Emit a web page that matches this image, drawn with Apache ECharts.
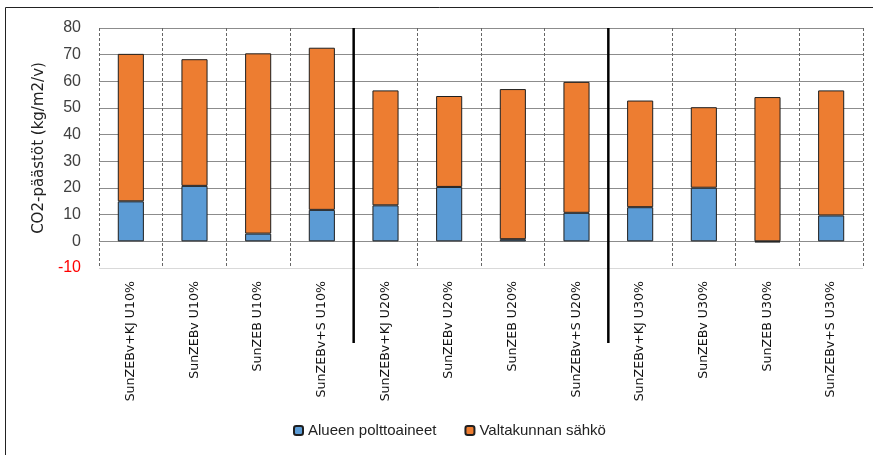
<!DOCTYPE html>
<html><head><meta charset="utf-8">
<script src="https://cdn.jsdelivr.net/npm/echarts@6/dist/echarts.min.js"></script>
<style>html,body{margin:0;padding:0;background:#fff}#c{width:873px;height:455px}</style>
</head><body><div id="c"></div>
<script>
var categories = ['SunZEBv+KJ U10%','SunZEBv U10%','SunZEB U10%','SunZEBv+S U10%','SunZEBv+KJ U20%','SunZEBv U20%','SunZEB U20%','SunZEBv+S U20%','SunZEBv+KJ U30%','SunZEBv U30%','SunZEB U30%','SunZEBv+S U30%'];
var alueenPolttoaineet = [15.0, 20.8, 2.9, 11.8, 13.5, 20.4, 0.8, 10.7, 12.8, 20.1, -0.4, 9.7];
var valtakunnanSahko = [55.3, 47.5, 67.6, 60.8, 43.1, 34.1, 56.3, 49.1, 40.0, 30.2, 54.1, 46.9];
var seriesNames = ['Alueen polttoaineet', 'Valtakunnan sähkö'];
var yTitle = 'CO2-päästöt (kg/m2/v)';
var groupBreaks = [4, 8];

var chart = echarts.init(document.getElementById('c'));
var gridColors = ['#d9d9d9','#8c8c8c','#8c8c8c','#8c8c8c','#8c8c8c','#8c8c8c','#8c8c8c','#8c8c8c','#8c8c8c','#8c8c8c'];
chart.setOption({
  animation: false,
  grid: {left: 99, right: 10, top: 28, bottom: 187},
  legend: {
    bottom: 12, left: 288, itemWidth: 9, itemHeight: 9, itemGap: 28,
    textStyle: {fontFamily: 'Liberation Sans', fontSize: 15, color: '#222'},
    data: seriesNames
  },
  xAxis: {
    type: 'category', data: categories,
    axisLine: {show: false}, axisTick: {show: false},
    splitLine: {show: true, interval: 0, lineStyle: {type: [3, 2], color: '#666', width: 1}},
    axisLabel: {rotate: 90, interval: 0, margin: 13, fontFamily: 'DejaVu Sans', fontSize: 12.6, color: '#111'}
  },
  yAxis: {
    type: 'value', min: -10, max: 80, interval: 10,
    name: yTitle, nameLocation: 'middle', nameGap: 48,
    nameTextStyle: {fontFamily: 'DejaVu Sans', fontSize: 15, color: '#222'},
    axisLine: {show: false}, axisTick: {show: false},
    splitLine: {lineStyle: {color: gridColors, width: 1}},
    axisLabel: {
      margin: 18, fontFamily: 'Liberation Sans', fontSize: 16, color: '#404040',
      formatter: function (v) { return v < 0 ? '{r|' + v + '}' : '' + v; },
      rich: {r: {color: '#ff0000', fontFamily: 'Liberation Sans', fontSize: 16}}
    }
  },
  series: [
    {name: seriesNames[0], type: 'bar', stack: 'a', data: alueenPolttoaineet, barWidth: '41%',
     itemStyle: {color: '#5b9bd5', borderColor: '#1f1f1f', borderWidth: 1}},
    {name: seriesNames[1], type: 'bar', stack: 'a', data: valtakunnanSahko, barWidth: '41%',
     itemStyle: {color: '#ed7d31', borderColor: '#1f1f1f', borderWidth: 1}}
  ]
});

var els = [{type: 'rect', shape: {x: 5.5, y: 7.5, width: 900, height: 460}, style: {fill: null, stroke: '#222', lineWidth: 1}, silent: true}];
var yTop = chart.convertToPixel({yAxisIndex: 0}, 80);
groupBreaks.forEach(function (b) {
  var x = (chart.convertToPixel({xAxisIndex: 0}, b - 1) + chart.convertToPixel({xAxisIndex: 0}, b)) / 2;
  els.push({type: 'line', shape: {x1: x, y1: yTop, x2: x, y2: 343}, style: {stroke: '#000', lineWidth: 2.5}, silent: true, z: 100});
});
chart.setOption({graphic: els});
</script></body></html>
